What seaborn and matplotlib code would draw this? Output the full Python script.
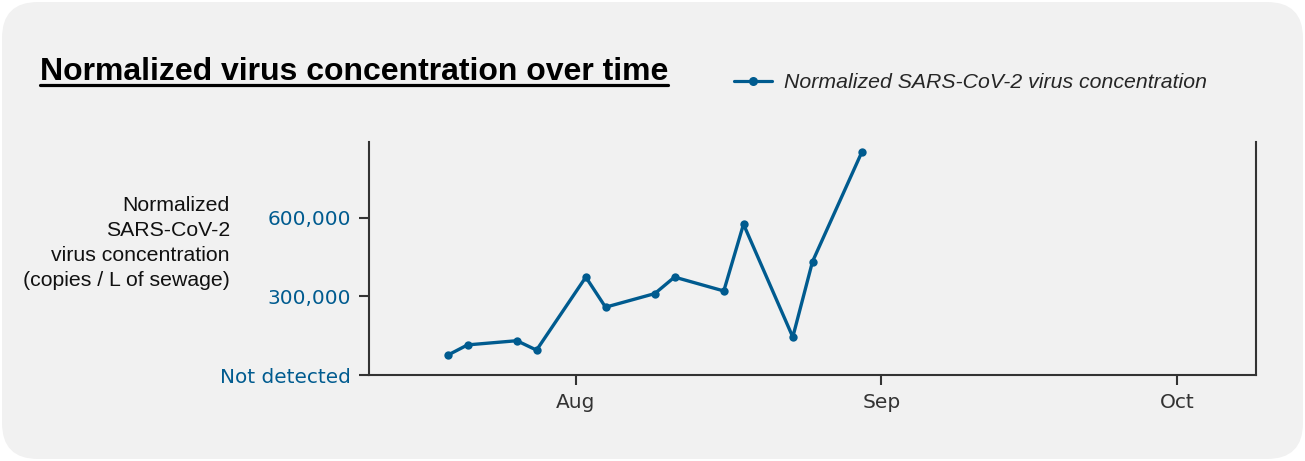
import pandas as pd
import numpy as np
import matplotlib
matplotlib.use('Agg')
import matplotlib.pyplot as plt
import matplotlib.dates as mdates
from matplotlib.patches import FancyBboxPatch
from matplotlib.lines import Line2D
import seaborn as sns

# datos
dates = ['2023-07-19', '2023-07-21', '2023-07-26', '2023-07-28', '2023-08-02',
         '2023-08-04', '2023-08-09', '2023-08-11', '2023-08-16', '2023-08-18',
         '2023-08-23', '2023-08-25', '2023-08-30']
values = [76000, 115000, 131000, 95000, 374000, 259000, 311000, 374000,
          321000, 576000, 145000, 433000, 851000]
ytick_values = [0, 300000, 600000]
ytick_labels = ['Not detected', '300,000', '600,000']
series_name = 'Normalized SARS-CoV-2 virus concentration'

blue = '#005b8f'
bg = '#f1f1f1'

sns.set_style('ticks')
plt.rcParams['font.family'] = ['DejaVu Sans']

df = pd.DataFrame({'date': pd.to_datetime(dates), 'value': values})

W, H = 1305, 461
fig = plt.figure(figsize=(W / 100, H / 100), dpi=100, facecolor='white')

# fondo redondeado
card = FancyBboxPatch((2, 2), W - 4, H - 4, boxstyle='round,pad=0,rounding_size=36',
                      transform=None, facecolor=bg, edgecolor='none', zorder=-10)
fig.patches.append(card)

ax = fig.add_axes([369 / W, 1 - 375 / H, (1256 - 369) / W, (375 - 142) / H])
ax.set_facecolor(bg)

sns.lineplot(data=df, x='date', y='value', ax=ax, color=blue, linewidth=2.4,
             marker='o', markersize=6, markeredgewidth=0, label=series_name, legend=False)

ax.set_xlim(pd.Timestamp('2023-07-11'), pd.Timestamp('2023-10-09'))
ax.set_ylim(0, 890000)
ax.xaxis.set_major_locator(mdates.MonthLocator())
ax.xaxis.set_major_formatter(mdates.DateFormatter('%b'))
ax.set_yticks(ytick_values)
ax.set_yticklabels(ytick_labels)
ax.set_xlabel('')
ax.set_ylabel('')

for s in ['left', 'bottom', 'right']:
    ax.spines[s].set_color('#333333')
    ax.spines[s].set_linewidth(1.5)
ax.spines['top'].set_visible(False)
ax.tick_params(axis='both', length=7, width=1.5, color='#333333')
ax.tick_params(axis='y', colors='#333333', labelcolor=blue, labelsize=14.4, pad=6)
ax.tick_params(axis='x', labelcolor='#333333', labelsize=14.5, pad=6)

# etiqueta eje y
fig.text(230 / W, 1 - 243 / H,
         'Normalized\nSARS-CoV-2\nvirus concentration\n(copies / L of sewage)',
         ha='right', va='center', multialignment='right', fontsize=15.3,
         family='Liberation Sans', color='#111111', linespacing=1.4)

# titulo subrayado
title = fig.text(40 / W, 1 - 80 / H, 'Normalized virus concentration over time',
                 ha='left', va='baseline', fontsize=23, fontweight='bold',
                 family='Liberation Sans', color='black')
fig.canvas.draw()
bb = title.get_window_extent()
uy = (H - 85) / H
fig.add_artist(Line2D([bb.x0 / W, bb.x1 / W], [uy, uy], transform=fig.transFigure,
                      color='black', linewidth=2.3))

# leyenda
handle = Line2D([], [], color=blue, linewidth=2.3, marker='o', markersize=6.5, markeredgewidth=0)
leg = fig.legend([handle], [series_name], loc='center left',
                 bbox_to_anchor=(734 / W, 1 - 83 / H), frameon=False,
                 borderpad=0, borderaxespad=0, handlelength=1.8, handletextpad=0.55,
                 prop={'family': 'Liberation Sans', 'style': 'italic', 'size': 15.3})

fig.savefig('out.png', dpi=100, facecolor='white')
plt.close()
